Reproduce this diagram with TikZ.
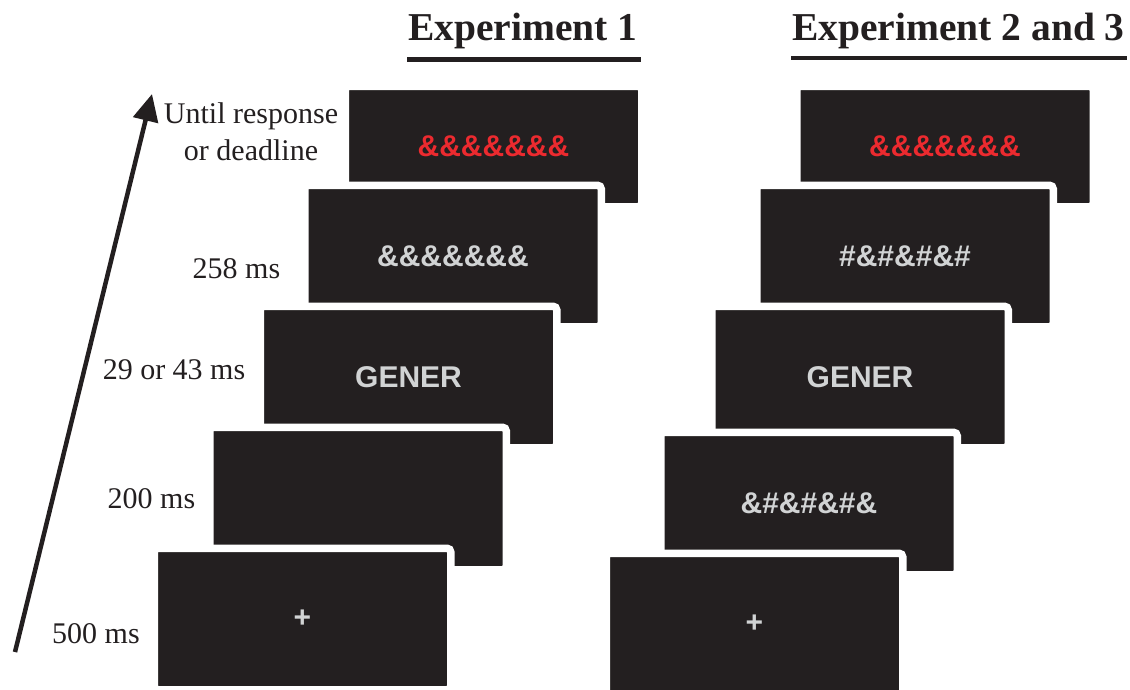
\documentclass[tikz,border=0pt]{standalone}
\usepackage{fontspec}
\setmainfont{Liberation Serif}
\newfontfamily\scrfont{Liberation Sans}
\usetikzlibrary{arrows.meta,calc}
\definecolor{scrbg}{HTML}{231F20}
\definecolor{stimred}{HTML}{EC2A2F}
\definecolor{stimgray}{HTML}{D1D3D4}
\definecolor{inkdark}{HTML}{231F20}
\begin{document}
\begin{tikzpicture}[x=1pt,y=-1pt,
  screen/.style={draw=white, fill=scrbg, line width=7.5pt, rounded corners=3.75pt,
    inner sep=0pt, minimum width=296.5pt, minimum height=141.5pt,
    font=\scrfont\bfseries\fontsize{30}{36}\selectfont, text=stimgray},
  redstim/.style={text=stimred},
  lab/.style={font=\fontsize{30}{37}\selectfont, inner sep=0pt, text=inkdark, align=center},
  ttl/.style={font=\bfseries\fontsize{39.5}{44}\selectfont, inner sep=0pt, anchor=base west, text=inkdark},
  uline/.style={draw=inkdark, line width=4.5pt},
  timearrow/.style={draw=inkdark, line width=4.5pt, -{Triangle[length=27pt,width=25pt]}}
]
\useasboundingbox (0,0) rectangle (1130,689);

% titles
\node[ttl] (t1) at (408,40) {Experiment 1};
\node[ttl] (t2) at (792,40) {Experiment 2 and 3};
\draw[uline] ($(t1.base west)+(-1,19.5)$) -- ($(t1.base east)+(3,19.5)$);
\draw[uline] ($(t2.base west)+(-1,18)$) -- ($(t2.base east)+(2,18)$);

% time arrow
\coordinate (tail) at (15,652);
\coordinate (tip) at (152,94);
\draw[timearrow] (tail) -- (tip);

% labels
\node[lab] (l5) at (251,132) {Until response\\or deadline};
\node[lab] (l4) at (236.5,269) {258 ms};
\node[lab] (l3) at (174,370) {29 or 43 ms};
\node[lab] (l2) at (151.5,499) {200 ms};
\node[lab] (l1) at (96,634) {500 ms};

% Experiment 1 screens (back to front)
\node[screen, redstim, minimum height=120.5pt] (e1) at (493.5,146.5) {\&\&\&\&\&\&\&};
\node[screen] (d1) at (453,256) {\&\&\&\&\&\&\&};
\node[screen] (c1) at (408.5,377) {GENER};
\node[screen, minimum height=142.5pt] (b1) at (358,498.5) {};
\node[screen] (a1) at (302.5,619) {+};

% Experiment 2 and 3 screens (back to front)
\node[screen, redstim, minimum height=120.5pt] (e2) at (945,146.5) {\&\&\&\&\&\&\&};
\node[screen] (d2) at (905,256) {\#\&\#\&\#\&\#};
\node[screen] (c2) at (860,377) {GENER};
\node[screen, minimum height=142.5pt] (b2) at (809,503.5) {\&\#\&\#\&\#\&};
\node[screen] (a2) at (754.5,624) {+};
\end{tikzpicture}
\end{document}
